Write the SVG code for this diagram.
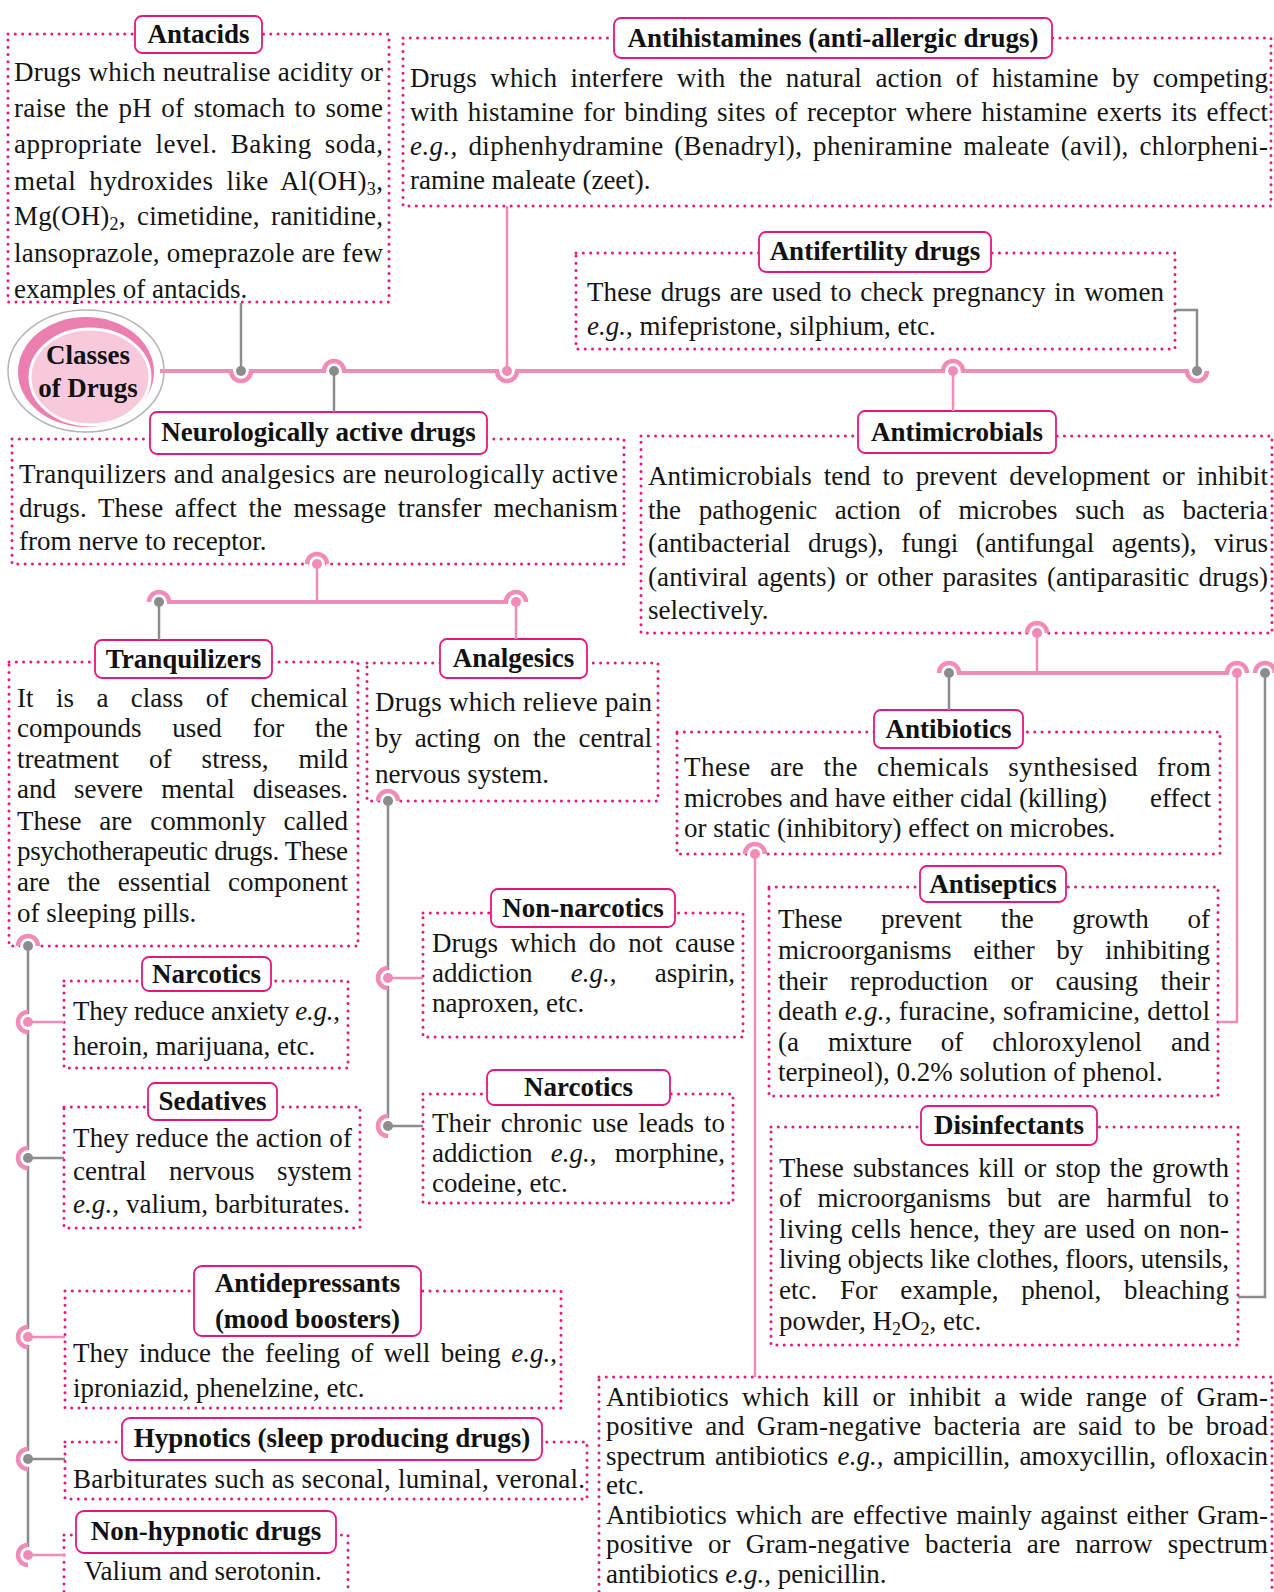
<svg xmlns="http://www.w3.org/2000/svg" width="1274" height="1592" viewBox="0 0 1274 1592">
<defs>
<style>
.t{font-family:"Liberation Serif","Times New Roman",serif;font-size:27px;fill:#141414}
.h{font-family:"Liberation Serif","Times New Roman",serif;font-size:27px;font-weight:bold;fill:#111;text-anchor:middle}
.i{font-style:italic}
.e{text-anchor:end}
.dt{fill:none;stroke:#e5177e;stroke-width:3;stroke-dasharray:0 7.3;stroke-linecap:round}
.lb{fill:#fff;stroke:#e5177e;stroke-width:1.8}
.pk{fill:none;stroke:#f08cb8;stroke-width:2.5}
.pkt{fill:none;stroke:#f08cb8;stroke-width:4}
.pkw{fill:none;stroke:#f08cb8;stroke-width:4.5}
.gy{fill:none;stroke:#8c8c8c;stroke-width:2.5}
.pd{fill:#f08cb8}
.gd{fill:#8c8c8c}
.wh{fill:#fff}
</style>
<path id="dome" class="pkw" d="M-10 0A10 10 0 0 1 10 0"/>
<path id="cup" class="pkw" d="M-10 0A10 10 0 0 0 10 0"/>
<path id="cl" class="pkw" d="M0 -10A10 10 0 0 0 0 10"/>
<path id="wdome" class="wh" d="M-8 2.5H8V0A8 8 0 0 0 -8 0Z"/>
<path id="wcup" class="wh" d="M-8 -2.5H8V0A8 8 0 0 1 -8 0Z"/>
<path id="wcl" class="wh" d="M2 -8V8H0A8 8 0 0 1 0 -8Z"/>
<circle id="pdot" class="pd" r="5"/>
<circle id="gdot" class="gd" r="5"/>
</defs>

<g id="classes">
<ellipse cx="86" cy="371" rx="78" ry="61" fill="#fff" stroke="#b5b5b5" stroke-width="1.5"/>
<ellipse cx="86" cy="372" rx="68" ry="55" fill="#ea7fb0"/>
<ellipse cx="90" cy="377" rx="60" ry="48" fill="#f8c8dd" stroke="#fff" stroke-width="3"/>
<text class="h" x="88" y="364">Classes</text>
<text class="h" x="88" y="397">of Drugs</text>
</g>

<g id="antacids">
<rect class="dt" x="8" y="34" width="381" height="268"/>
<rect class="lb" x="135" y="16" width="127" height="37" rx="7"/>
<text class="h" x="198.5" y="43">Antacids</text>
<text class="t" x="14" y="81" textLength="369" lengthAdjust="spacing">Drugs which neutralise acidity or</text>
<text class="t" x="14" y="117" word-spacing="2.5" textLength="369" lengthAdjust="spacing">raise the pH of stomach to some</text>
<text class="t" x="14" y="153" word-spacing="6" textLength="369" lengthAdjust="spacing">appropriate level. Baking soda,</text>
<text class="t" x="14" y="190" word-spacing="6" textLength="369" lengthAdjust="spacing">metal hydroxides like Al(OH)<tspan dy="5" font-size="18">3</tspan><tspan dy="-5">,</tspan></text>
<text class="t" x="14" y="225" word-spacing="4.5" textLength="369" lengthAdjust="spacing">Mg(OH)<tspan dy="5" font-size="18">2</tspan><tspan dy="-5">, cimetidine, ranitidine,</tspan></text>
<text class="t" x="14" y="262" textLength="369" lengthAdjust="spacing">lansoprazole, omeprazole are few</text>
<text class="t" x="14" y="298">examples of antacids.</text>
</g>

<g id="antihistamines">
<rect class="dt" x="403" y="38" width="868" height="168"/>
<rect class="lb" x="614" y="18" width="438" height="40" rx="7"/>
<text class="h" x="833" y="46.5">Antihistamines (anti-allergic drugs)</text>
<text class="t" x="410" y="87" word-spacing="6.5" textLength="858" lengthAdjust="spacing">Drugs which interfere with the natural action of histamine by competing</text>
<text class="t" x="410" y="121" word-spacing="2.5" textLength="858" lengthAdjust="spacing">with histamine for binding sites of receptor where histamine exerts its effect</text>
<text class="t" x="410" y="155" word-spacing="3.5" textLength="858" lengthAdjust="spacing"><tspan class="i">e.g.,</tspan> diphenhydramine (Benadryl), pheniramine maleate (avil), chlorpheni-</text>
<text class="t" x="410" y="189">ramine maleate (zeet).</text>
</g>

<g id="antifertility">
<rect class="dt" x="576" y="253" width="599" height="96"/>
<rect class="lb" x="759" y="232" width="232" height="40" rx="7"/>
<text class="h" x="875" y="260">Antifertility drugs</text>
<text class="t" x="587" y="301" word-spacing="2" textLength="577" lengthAdjust="spacing">These drugs are used to check pregnancy in women</text>
<text class="t" x="587" y="335"><tspan class="i">e.g.</tspan>, mifepristone, silphium, etc.</text>
</g>

<g id="neuro">
<rect class="dt" x="12" y="439" width="612" height="125"/>
<rect class="lb" x="150" y="412" width="337" height="42" rx="7"/>
<text class="h" x="318.5" y="441">Neurologically active drugs</text>
<text class="t" x="19" y="483" textLength="599" lengthAdjust="spacing">Tranquilizers and analgesics are neurologically active</text>
<text class="t" x="19" y="517" word-spacing="4.5" textLength="599" lengthAdjust="spacing">drugs. These affect the message transfer mechanism</text>
<text class="t" x="19" y="550">from nerve to receptor.</text>
</g>

<g id="antimicrobials">
<rect class="dt" x="641" y="436" width="631" height="197"/>
<rect class="lb" x="858" y="411" width="198" height="42" rx="7"/>
<text class="h" x="957" y="440.5">Antimicrobials</text>
<text class="t" x="648" y="485" word-spacing="5" textLength="620" lengthAdjust="spacing">Antimicrobials tend to prevent development or inhibit</text>
<text class="t" x="648" y="519" word-spacing="10.9" textLength="620" lengthAdjust="spacing">the pathogenic action of microbes such as bacteria</text>
<text class="t" x="648" y="552" word-spacing="10.8" textLength="620" lengthAdjust="spacing">(antibacterial drugs), fungi (antifungal agents), virus</text>
<text class="t" x="648" y="586" word-spacing="2.5" textLength="620" lengthAdjust="spacing">(antiviral agents) or other parasites (antiparasitic drugs)</text>
<text class="t" x="648" y="619">selectively.</text>
</g>

<g id="tranquilizers">
<rect class="dt" x="9" y="662" width="349" height="284"/>
<rect class="lb" x="95" y="640" width="177" height="38" rx="7"/>
<text class="h" x="183.5" y="667.5">Tranquilizers</text>
<text class="t" x="17" y="707" word-spacing="15.7" textLength="331" lengthAdjust="spacing">It is a class of chemical</text>
<text class="t" x="17" y="737" word-spacing="24.1" textLength="331" lengthAdjust="spacing">compounds used for the</text>
<text class="t" x="17" y="768" word-spacing="23.3" textLength="331" lengthAdjust="spacing">treatment of stress, mild</text>
<text class="t" x="17" y="798" word-spacing="11.4" textLength="331" lengthAdjust="spacing">and severe mental diseases.</text>
<text class="t" x="17" y="830" word-spacing="11.1" textLength="331" lengthAdjust="spacing">These are commonly called</text>
<text class="t" x="17" y="860" textLength="331" lengthAdjust="spacing">psychotherapeutic drugs. These</text>
<text class="t" x="17" y="891" word-spacing="10.6" textLength="331" lengthAdjust="spacing">are the essential component</text>
<text class="t" x="17" y="922">of sleeping pills.</text>
</g>

<g id="analgesics">
<rect class="dt" x="367" y="663" width="291" height="138"/>
<rect class="lb" x="440" y="639" width="147" height="39" rx="7"/>
<text class="h" x="513.5" y="667">Analgesics</text>
<text class="t" x="375" y="711" textLength="277" lengthAdjust="spacing">Drugs which relieve pain</text>
<text class="t" x="375" y="747" word-spacing="5.9" textLength="277" lengthAdjust="spacing">by acting on the central</text>
<text class="t" x="375" y="783">nervous system.</text>
</g>

<g id="antibiotics">
<rect class="dt" x="677" y="732" width="543" height="122"/>
<rect class="lb" x="874" y="710" width="149" height="38" rx="7"/>
<text class="h" x="948.5" y="737.5">Antibiotics</text>
<text class="t" x="684" y="776" word-spacing="12" textLength="527" lengthAdjust="spacing">These are the chemicals synthesised from</text>
<text class="t" x="684" y="807" textLength="423" lengthAdjust="spacing">microbes and have either cidal (killing)</text>
<text class="t e" x="1211" y="807">effect</text>
<text class="t" x="684" y="837">or static (inhibitory) effect on microbes.</text>
</g>

<g id="antiseptics">
<rect class="dt" x="769" y="887" width="449" height="209"/>
<rect class="lb" x="920" y="866" width="146" height="36" rx="7"/>
<text class="h" x="993" y="893">Antiseptics</text>
<text class="t" x="778" y="928" word-spacing="31.9" textLength="432" lengthAdjust="spacing">These prevent the growth of</text>
<text class="t" x="778" y="959" word-spacing="14.8" textLength="432" lengthAdjust="spacing">microorganisms either by inhibiting</text>
<text class="t" x="778" y="990" word-spacing="15.8" textLength="432" lengthAdjust="spacing">their reproduction or causing their</text>
<text class="t" x="778" y="1020" textLength="432" lengthAdjust="spacing">death <tspan class="i">e.g.</tspan>, furacine, soframicine, dettol</text>
<text class="t" x="778" y="1051" word-spacing="22.2" textLength="432" lengthAdjust="spacing">(a mixture of chloroxylenol and</text>
<text class="t" x="778" y="1081">terpineol), 0.2% solution of phenol.</text>
</g>

<g id="non-narcotics">
<rect class="dt" x="423" y="913" width="320" height="124"/>
<rect class="lb" x="491" y="889" width="184" height="38" rx="7"/>
<text class="h" x="583" y="916.5">Non-narcotics</text>
<text class="t" x="432" y="952" word-spacing="5.6" textLength="303" lengthAdjust="spacing">Drugs which do not cause</text>
<text class="t" x="432" y="982" word-spacing="31.5" textLength="303" lengthAdjust="spacing">addiction <tspan class="i">e.g.</tspan>, aspirin,</text>
<text class="t" x="432" y="1012">naproxen, etc.</text>
</g>

<g id="narcotics-2">
<rect class="dt" x="423" y="1094" width="310" height="109"/>
<rect class="lb" x="487" y="1070" width="183" height="35" rx="7"/>
<text class="h" x="578.5" y="1096">Narcotics</text>
<text class="t" x="432" y="1132" word-spacing="3" textLength="293" lengthAdjust="spacing">Their chronic use leads to</text>
<text class="t" x="432" y="1162" word-spacing="11.5" textLength="293" lengthAdjust="spacing">addiction <tspan class="i">e.g.</tspan>, morphine,</text>
<text class="t" x="432" y="1192">codeine, etc.</text>
</g>

<g id="narcotics-1">
<rect class="dt" x="64" y="981" width="284" height="87"/>
<rect class="lb" x="142" y="957" width="129" height="34" rx="7"/>
<text class="h" x="206.5" y="983">Narcotics</text>
<text class="t" x="73" y="1020" textLength="267" lengthAdjust="spacing">They reduce anxiety <tspan class="i">e.g.</tspan>,</text>
<text class="t" x="73" y="1055">heroin, marijuana, etc.</text>
</g>

<g id="sedatives">
<rect class="dt" x="64" y="1107" width="296" height="121"/>
<rect class="lb" x="148" y="1083" width="129" height="37" rx="7"/>
<text class="h" x="212.5" y="1110">Sedatives</text>
<text class="t" x="73" y="1147" textLength="279" lengthAdjust="spacing">They reduce the action of</text>
<text class="t" x="73" y="1180" word-spacing="15.8" textLength="279" lengthAdjust="spacing">central nervous system</text>
<text class="t" x="73" y="1213" textLength="277" lengthAdjust="spacing"><tspan class="i">e.g.</tspan>, valium, barbiturates.</text>
</g>

<g id="antidepressants">
<rect class="dt" x="65" y="1291" width="496" height="117"/>
<rect class="lb" x="194" y="1266" width="227" height="70" rx="8"/>
<text class="h" x="307.5" y="1292">Antidepressants</text>
<text class="h" x="307.5" y="1328">(mood boosters)</text>
<text class="t" x="73" y="1362" word-spacing="3.8" textLength="484" lengthAdjust="spacing">They induce the feeling of well being <tspan class="i">e.g.</tspan>,</text>
<text class="t" x="73" y="1397">iproniazid, phenelzine, etc.</text>
</g>

<g id="hypnotics">
<rect class="dt" x="65" y="1442" width="522" height="57"/>
<rect class="lb" x="122" y="1418" width="420" height="42" rx="8"/>
<text class="h" x="332" y="1447">Hypnotics (sleep producing drugs)</text>
<text class="t" x="73" y="1488" textLength="512" lengthAdjust="spacing">Barbiturates such as seconal, luminal, veronal.</text>
</g>

<g id="non-hypnotic">
<rect class="dt" x="64" y="1535" width="284" height="80"/>
<rect class="lb" x="76" y="1511" width="260" height="42" rx="8"/>
<text class="h" x="206" y="1540">Non-hypnotic drugs</text>
<text class="t" x="84" y="1580">Valium and serotonin.</text>
</g>

<g id="disinfectants">
<rect class="dt" x="771" y="1127" width="467" height="218"/>
<rect class="lb" x="921" y="1106" width="176" height="39" rx="7"/>
<text class="h" x="1009" y="1134">Disinfectants</text>
<text class="t" x="779" y="1177" word-spacing="2.2" textLength="450" lengthAdjust="spacing">These substances kill or stop the growth</text>
<text class="t" x="779" y="1207" word-spacing="9.2" textLength="450" lengthAdjust="spacing">of microorganisms but are harmful to</text>
<text class="t" x="779" y="1238" word-spacing="1.5" textLength="450" lengthAdjust="spacing">living cells hence, they are used on non-</text>
<text class="t" x="779" y="1268" textLength="450" lengthAdjust="spacing">living objects like clothes, floors, utensils,</text>
<text class="t" x="779" y="1299" word-spacing="16" textLength="450" lengthAdjust="spacing">etc. For example, phenol, bleaching</text>
<text class="t" x="779" y="1330">powder, H<tspan dy="5" font-size="18">2</tspan><tspan dy="-5">O</tspan><tspan dy="5" font-size="18">2</tspan><tspan dy="-5">, etc.</tspan></text>
</g>

<g id="spectrum">
<rect class="dt" x="599" y="1377" width="673" height="230"/>
<text class="t" x="606" y="1406" word-spacing="6" textLength="662" lengthAdjust="spacing">Antibiotics which kill or inhibit a wide range of Gram-</text>
<text class="t" x="606" y="1435" word-spacing="5" textLength="662" lengthAdjust="spacing">positive and Gram-negative bacteria are said to be broad</text>
<text class="t" x="606" y="1465" word-spacing="2.5" textLength="662" lengthAdjust="spacing">spectrum antibiotics <tspan class="i">e.g.,</tspan> ampicillin, amoxycillin, ofloxacin</text>
<text class="t" x="606" y="1494">etc.</text>
<text class="t" x="606" y="1524" word-spacing="2" textLength="662" lengthAdjust="spacing">Antibiotics which are effective mainly against either Gram-</text>
<text class="t" x="606" y="1553" word-spacing="8" textLength="662" lengthAdjust="spacing">positive or Gram-negative bacteria are narrow spectrum</text>
<text class="t" x="606" y="1583">antibiotics <tspan class="i">e.g.</tspan>, penicillin.</text>
</g>

<g id="connectors">
<g id="through">
<path class="pkt" d="M160 371H1197"/>
<path class="pkt" d="M159 602H516"/>
<path class="pkt" d="M949 673H1237"/>
<path class="gy" d="M28 946V1555"/>
<path class="gy" d="M388 801V1126"/>
</g>
<g id="whites">
<use href="#wcup" x="241" y="371"/>
<use href="#wdome" x="334" y="371"/>
<use href="#wcup" x="507" y="371"/>
<use href="#wdome" x="953" y="371"/>
<use href="#wcup" x="1197" y="371"/>
<use href="#wdome" x="317" y="564"/>
<use href="#wdome" x="159" y="602"/>
<use href="#wdome" x="516" y="602"/>
<use href="#wdome" x="28" y="946"/>
<use href="#wcl" x="28" y="1022"/>
<use href="#wcl" x="28" y="1158"/>
<use href="#wcl" x="28" y="1337"/>
<use href="#wcl" x="28" y="1459"/>
<use href="#wcl" x="28" y="1555"/>
<use href="#wdome" x="388" y="801"/>
<use href="#wcl" x="388" y="978"/>
<use href="#wcl" x="388" y="1126"/>
<use href="#wdome" x="1037" y="633"/>
<use href="#wdome" x="949" y="673"/>
<use href="#wdome" x="1237" y="673"/>
<use href="#wdome" x="1265" y="673"/>
<use href="#wdome" x="755" y="854"/>
</g>
<g id="branches">
<path class="gy" d="M241 303V371"/>
<path class="gy" d="M334 371V412"/>
<path class="pk" d="M507 206V371"/>
<path class="pk" d="M953 371V411"/>
<path class="gy" d="M1175 310H1197V371"/>
<path class="pk" d="M317 564V602"/>
<path class="gy" d="M159 602V640"/>
<path class="pk" d="M516 602V639"/>
<path class="pk" d="M28 1022H64"/>
<path class="gy" d="M28 1158H64"/>
<path class="pk" d="M28 1337H65"/>
<path class="gy" d="M28 1459H65"/>
<path class="pk" d="M28 1555H65"/>
<path class="pk" d="M388 978H423"/>
<path class="gy" d="M388 1126H423"/>
<path class="pk" d="M1037 633V673"/>
<path class="gy" d="M949 673V710"/>
<path class="pk" d="M1237 673V1022H1218"/>
<path class="gy" d="M1265 673V1297H1238"/>
<path class="pk" d="M755 854V1377"/>
</g>
<g id="junctions">
<use href="#cup" x="241" y="371"/><use href="#gdot" x="241" y="371"/>
<use href="#dome" x="334" y="371"/><use href="#gdot" x="334" y="371"/>
<use href="#cup" x="507" y="371"/><use href="#pdot" x="507" y="371"/>
<use href="#dome" x="953" y="371"/><use href="#pdot" x="953" y="371"/>
<use href="#cup" x="1197" y="371"/><use href="#gdot" x="1197" y="371"/>
<use href="#dome" x="317" y="564"/><use href="#pdot" x="317" y="564"/>
<use href="#dome" x="159" y="602"/><use href="#gdot" x="159" y="602"/>
<use href="#dome" x="516" y="602"/><use href="#pdot" x="516" y="602"/>
<use href="#dome" x="28" y="946"/><use href="#gdot" x="28" y="946"/>
<use href="#cl" x="28" y="1022"/><use href="#pdot" x="28" y="1022"/>
<use href="#cl" x="28" y="1158"/><use href="#gdot" x="28" y="1158"/>
<use href="#cl" x="28" y="1337"/><use href="#pdot" x="28" y="1337"/>
<use href="#cl" x="28" y="1459"/><use href="#gdot" x="28" y="1459"/>
<use href="#cl" x="28" y="1555"/><use href="#pdot" x="28" y="1555"/>
<use href="#dome" x="388" y="801"/><use href="#gdot" x="388" y="801"/>
<use href="#cl" x="388" y="978"/><use href="#pdot" x="388" y="978"/>
<use href="#cl" x="388" y="1126"/><use href="#gdot" x="388" y="1126"/>
<use href="#dome" x="1037" y="633"/><use href="#pdot" x="1037" y="633"/>
<use href="#dome" x="949" y="673"/><use href="#gdot" x="949" y="673"/>
<use href="#dome" x="1237" y="673"/><use href="#pdot" x="1237" y="673"/>
<use href="#dome" x="1265" y="673"/><use href="#gdot" x="1265" y="673"/>
<use href="#dome" x="755" y="854"/><use href="#pdot" x="755" y="854"/>
</g>
</g>
</svg>
